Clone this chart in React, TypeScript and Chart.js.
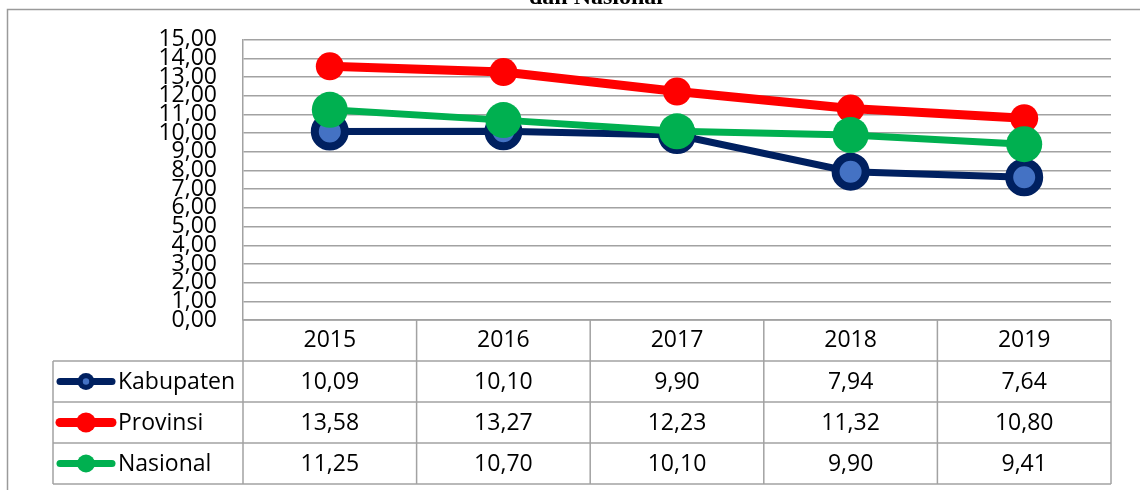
import React, { useEffect, useRef } from "react";
import { Chart, registerables } from "chart.js";

Chart.register(...registerables);

const years = ["2015", "2016", "2017", "2018", "2019"];
const kabupaten = [10.09, 10.1, 9.9, 7.94, 7.64];
const provinsi = [13.58, 13.27, 12.23, 11.32, 10.8];
const nasional = [11.25, 10.7, 10.1, 9.9, 9.41];
const seriesNames = ["Kabupaten", "Provinsi", "Nasional"];
const yMin = 0;
const yMax = 15;
const yStep = 1;
const titleText = "dan Nasional";

const FONT = "'Open Sans', sans-serif";
const GRID = "#a2a2a2";
const NAVY = "#002060";
const BLUE = "#4472C4";
const RED = "#FF0000";
const GREEN = "#00B050";

const fmt = (v: number) => v.toFixed(2).replace(".", ",");

const tablePlugin = {
  id: "tablePlugin",
  afterDraw(chart: any) {
    const { ctx, chartArea, scales } = chart;
    const xs = scales.x;
    const L = chartArea.left;
    const R = chartArea.right;
    const T = chartArea.bottom;
    const rowH = 41;
    const legL = 53;
    const B = T + rowH * 4;
    const n = years.length;
    const colW = (R - L) / n;

    ctx.save();
    // outer frame
    ctx.strokeStyle = "#9a9a9a";
    ctx.lineWidth = 1.5;
    ctx.beginPath();
    ctx.moveTo(7.5, 495);
    ctx.lineTo(7.5, 9.5);
    ctx.lineTo(1140, 9.5);
    ctx.stroke();

    // title (cut off at top)
    ctx.fillStyle = "#000";
    ctx.font = "bold 24px 'Liberation Serif', serif";
    ctx.textAlign = "center";
    ctx.textBaseline = "alphabetic";
    ctx.fillText(titleText, 596, 4);

    // table grid
    ctx.strokeStyle = GRID;
    ctx.lineWidth = 1.5;
    ctx.beginPath();
    ctx.moveTo(L, T);
    ctx.lineTo(R, T);
    for (let k = 1; k <= 4; k++) {
      ctx.moveTo(legL, T + k * rowH);
      ctx.lineTo(R, T + k * rowH);
    }
    for (let i = 0; i <= n; i++) {
      ctx.moveTo(L + i * colW, T);
      ctx.lineTo(L + i * colW, B);
    }
    ctx.moveTo(legL, T + rowH);
    ctx.lineTo(legL, B);
    ctx.stroke();

    // values
    const series = [kabupaten, provinsi, nasional];
    ctx.fillStyle = "#000";
    ctx.font = `23px ${FONT}`;
    ctx.textAlign = "center";
    ctx.textBaseline = "middle";
    series.forEach((arr, r) => {
      const cy = T + rowH * (r + 1) + rowH / 2 + 1;
      arr.forEach((v, i) => {
        ctx.fillText(fmt(v), xs.getPixelForValue(i), cy);
      });
    });

    // legend keys
    const keys = [
      { line: NAVY, w: 7, r: 8.5, fill: NAVY, inner: BLUE, ir: 3.2 },
      { line: RED, w: 9, r: 10, fill: RED, inner: null, ir: 0 },
      { line: GREEN, w: 7, r: 9, fill: GREEN, inner: null, ir: 0 },
    ];
    keys.forEach((k, r) => {
      const cy = T + rowH * (r + 1) + rowH / 2;
      ctx.strokeStyle = k.line;
      ctx.lineWidth = k.w;
      ctx.lineCap = "round";
      ctx.beginPath();
      ctx.moveTo(60, cy);
      ctx.lineTo(112, cy);
      ctx.stroke();
      ctx.fillStyle = k.fill;
      ctx.beginPath();
      ctx.arc(86, cy, k.r, 0, Math.PI * 2);
      ctx.fill();
      if (k.inner) {
        ctx.fillStyle = k.inner;
        ctx.beginPath();
        ctx.arc(86, cy, k.ir, 0, Math.PI * 2);
        ctx.fill();
      }
      ctx.fillStyle = "#000";
      ctx.font = `23px ${FONT}`;
      ctx.textAlign = "left";
      ctx.textBaseline = "middle";
      ctx.fillText(seriesNames[r], 118, cy + 1);
    });
    ctx.restore();
  },
};

export default function App() {
  const ref = useRef<HTMLCanvasElement | null>(null);

  useEffect(() => {
    if (!ref.current) return;
    const chart = new Chart(ref.current, {
      type: "line",
      data: {
        labels: years,
        datasets: [
          {
            label: seriesNames[0],
            data: kabupaten,
            borderColor: NAVY,
            borderWidth: 7,
            pointRadius: 15,
            pointBorderWidth: 8,
            pointBorderColor: NAVY,
            pointBackgroundColor: BLUE,
            tension: 0,
            order: 3,
          },
          {
            label: seriesNames[1],
            data: provinsi,
            borderColor: RED,
            borderWidth: 9,
            pointRadius: 14,
            pointBorderWidth: 0,
            pointBackgroundColor: RED,
            tension: 0,
            order: 2,
          },
          {
            label: seriesNames[2],
            data: nasional,
            borderColor: GREEN,
            borderWidth: 7,
            pointRadius: 18,
            pointBorderWidth: 0,
            pointBackgroundColor: GREEN,
            tension: 0,
            order: 1,
          },
        ],
      },
      options: {
        responsive: false,
        animation: false,
        events: [],
        devicePixelRatio: 1,
        layout: { padding: { top: 39, right: 29, bottom: 0, left: 0 } },
        plugins: {
          legend: { display: false },
          tooltip: { enabled: false },
          title: { display: false },
        },
        scales: {
          x: {
            type: "category",
            offset: true,
            grid: { display: false, drawTicks: false },
            border: { display: false },
            ticks: {
              autoSkip: false,
              maxRotation: 0,
              padding: 7,
              color: "#000",
              font: { family: FONT, size: 23, lineHeight: 1.2 },
            },
            afterFit: (s: any) => {
              s.height = 170;
            },
          },
          y: {
            min: yMin,
            max: yMax,
            grid: { color: GRID, lineWidth: 1.5, drawTicks: false },
            border: { display: true, color: GRID, width: 1.5 },
            ticks: {
              stepSize: yStep,
              autoSkip: false,
              padding: 26,
              color: "#000",
              font: { family: FONT, size: 23, lineHeight: 1.2 },
              callback: (v: any) => fmt(Number(v)),
            },
            afterFit: (s: any) => {
              s.width = 243;
            },
          },
        },
      },
      plugins: [tablePlugin],
    });
    return () => chart.destroy();
  }, []);

  return (
    <div style={{ position: "absolute", left: 0, top: 0, width: 1140, height: 490, background: "#fff" }}>
      <canvas ref={ref} width={1140} height={490} style={{ display: "block" }} />
    </div>
  );
}
